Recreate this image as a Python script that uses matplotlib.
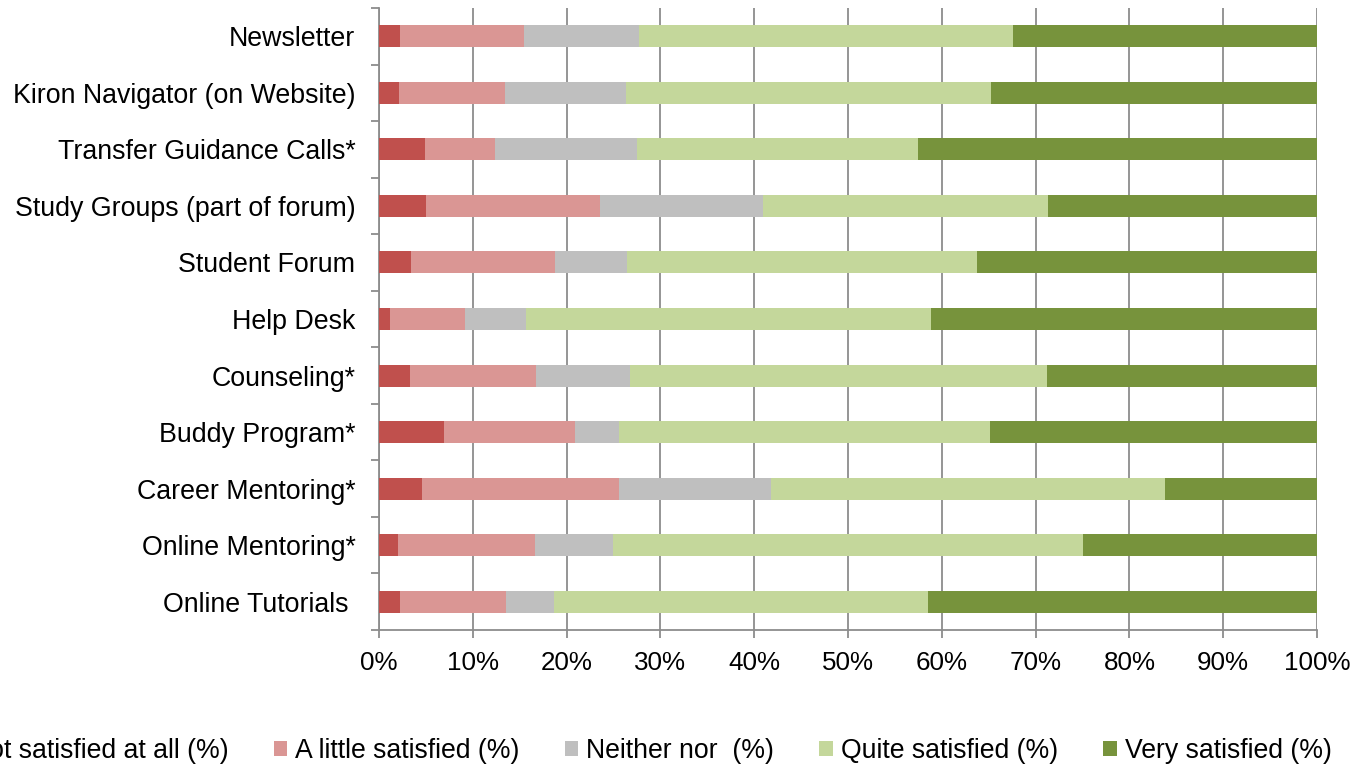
import matplotlib
matplotlib.use("Agg")
import matplotlib.pyplot as plt
import numpy as np

plt.rcParams['font.family'] = ['Liberation Sans', 'DejaVu Sans']

categories = [
    "Newsletter",
    "Kiron Navigator (on Website)",
    "Transfer Guidance Calls*",
    "Study Groups (part of forum)",
    "Student Forum",
    "Help Desk",
    "Counseling*",
    "Buddy Program*",
    "Career Mentoring*",
    "Online Mentoring*",
    "Online Tutorials ",
]

not_satisfied = [2.2, 2.1, 4.9, 5.0, 3.4, 1.2, 3.3, 6.9, 4.6, 2.0, 2.2]
little_satisfied = [13.3, 11.3, 7.5, 18.6, 15.4, 8.0, 13.4, 14.0, 21.0, 14.6, 11.3]
neither_nor = [12.2, 12.9, 15.1, 17.3, 7.6, 6.5, 10.1, 4.7, 16.2, 8.3, 5.2]
quite_satisfied = [39.9, 38.9, 30.0, 30.4, 37.4, 43.2, 44.4, 39.5, 42.0, 50.1, 39.8]
very_satisfied = [32.4, 34.8, 42.5, 28.7, 36.2, 41.1, 28.8, 34.9, 16.2, 25.0, 41.5]

series_names = [
    "Not satisfied at all (%)",
    "A little satisfied (%)",
    "Neither nor  (%)",
    "Quite satisfied (%)",
    "Very satisfied (%)",
]
colors = ["#C0504D", "#DA9694", "#BFBFBF", "#C4D79B", "#77933C"]

W, H = 1358, 764
fig = plt.figure(figsize=(W / 100, H / 100), dpi=100)
ax = fig.add_axes([379 / W, 1 - 630 / H, (1317 - 379) / W, (630 - 8) / H])

n = len(categories)
ypos = np.arange(n)[::-1]
series = [not_satisfied, little_satisfied, neither_nor, quite_satisfied, very_satisfied]
left = np.zeros(n)
handles = []
for vals, name, col in zip(series, series_names, colors):
    vals = np.array(vals, dtype=float)
    b = ax.barh(ypos, vals, left=left, height=0.39, color=col, label=name,
                edgecolor='none', zorder=3)
    handles.append(b)
    left += vals

grid_col = "#8C8C8C"
ax.set_xlim(0, 100)
ax.set_ylim(-0.5, n - 0.5)
ax.set_xticks(np.arange(0, 101, 10))
ax.set_xticklabels([f"{v}%" for v in range(0, 101, 10)])
ax.xaxis.grid(True, color=grid_col, linewidth=1.3, zorder=0)
ax.set_axisbelow(True)

ax.set_yticks(ypos)
ax.set_yticklabels(categories)
ax.set_yticks(np.arange(-0.5, n, 1.0), minor=True)
ax.tick_params(axis='y', which='major', length=0, pad=17, labelsize=19.3)
ax.tick_params(axis='y', which='minor', length=6, width=1.3, color=grid_col, direction='out')
ax.tick_params(axis='x', which='major', length=6, width=1.3, color=grid_col,
               direction='out', pad=9, labelsize=18.7)

for side in ['top', 'right']:
    ax.spines[side].set_visible(False)
for side in ['left', 'bottom']:
    ax.spines[side].set_color(grid_col)
    ax.spines[side].set_linewidth(1.3)

fig.legend(handles=handles, labels=series_names, ncol=5, loc='center',
           bbox_to_anchor=(640 / W, 1 - 751 / H), frameon=False,
           fontsize=19.2, handlelength=0.5, handleheight=0.5,
           handletextpad=0.3, columnspacing=1.7)

fig.savefig("out.png", dpi=100)
